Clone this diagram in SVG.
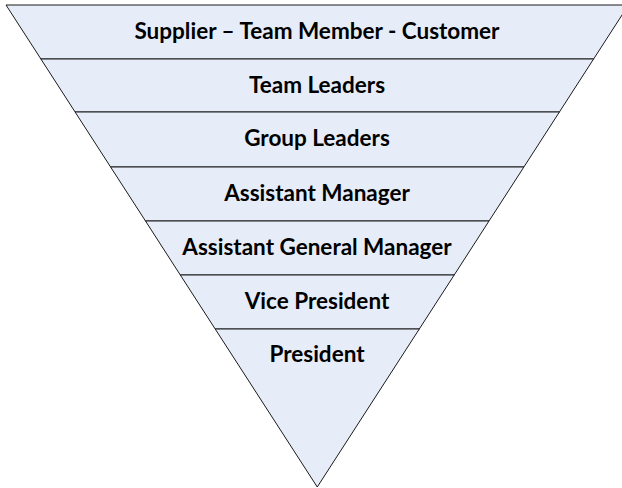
<svg xmlns="http://www.w3.org/2000/svg" width="622" height="488" viewBox="0 0 622 488">
  <style>
    .band { fill: #E7EDF8; stroke: #1a1a1a; stroke-width: 1; stroke-linejoin: miter; }
    .label { font-family: Lato, "Open Sans", "Liberation Sans", sans-serif; font-weight: bold; font-size: 22.5px; fill: #000; text-anchor: middle; }
  </style>
  <rect width="622" height="488" fill="#ffffff"/>
  <!-- inverted pyramid, one trapezoid per level, top to bottom -->
  <g id="level-supplier">
    <polygon class="band" points="6,5 628.5,5 593.6,59 40.9,59"/>
    <text class="label" x="317" y="39">Supplier – Team Member - Customer</text>
  </g>
  <g id="level-team-leaders">
    <polygon class="band" points="40.9,59 593.6,59 559.4,112 75.1,112"/>
    <text class="label" x="317" y="92.5">Team Leaders</text>
  </g>
  <g id="level-group-leaders">
    <polygon class="band" points="75.1,112 559.4,112 523.9,167 110.6,167"/>
    <text class="label" x="317" y="146">Group Leaders</text>
  </g>
  <g id="level-assistant-manager">
    <polygon class="band" points="110.6,167 523.9,167 489,221 145.5,221"/>
    <text class="label" x="317" y="200.5">Assistant Manager</text>
  </g>
  <g id="level-agm">
    <polygon class="band" points="145.5,221 489,221 454.2,275 180.3,275"/>
    <text class="label" x="317" y="254.5">Assistant General Manager</text>
  </g>
  <g id="level-vice-president">
    <polygon class="band" points="180.3,275 454.2,275 419.3,329 215.2,329"/>
    <text class="label" x="317" y="308.5">Vice President</text>
  </g>
  <g id="level-president">
    <polygon class="band" points="215.2,329 419.3,329 317.25,487"/>
    <text class="label" x="317" y="362">President</text>
  </g>
  <g id="connectors"/>
</svg>
